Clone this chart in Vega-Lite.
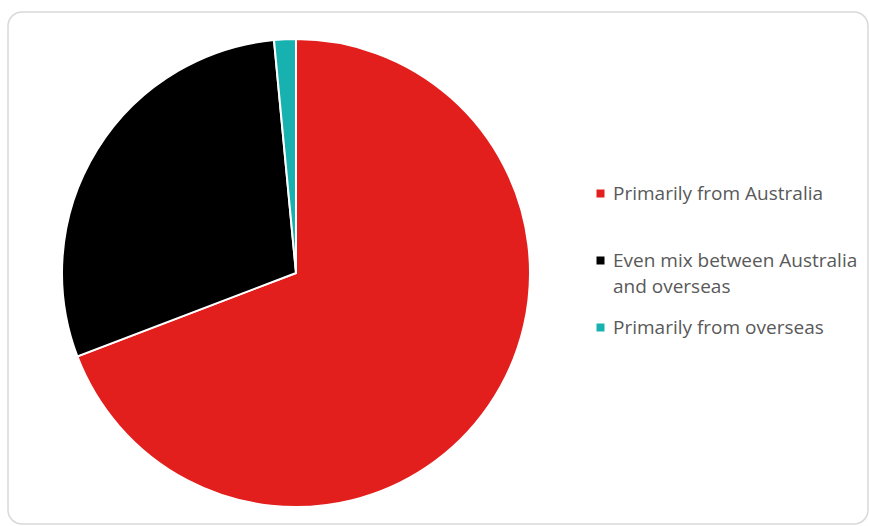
{
  "$schema": "https://vega.github.io/schema/vega-lite/v6.json",
  "width": 860,
  "height": 512,
  "autosize": {"type": "none"},
  "padding": {"left": 8, "top": 12, "right": 1, "bottom": 2},
  "background": "white",
  "view": {"stroke": "#d9d9d9", "strokeWidth": 1.5, "cornerRadius": 14, "fill": "white"},
  "config": {
    "font": "Open Sans",
    "style": {"guide-label": {"lineHeight": 26}}
  },
  "data": {
    "values": [
      {"category": "Primarily from Australia", "share": 69.2, "order": 1},
      {"category": "Even mix between Australia and overseas", "share": 29.3, "order": 2},
      {"category": "Primarily from overseas", "share": 1.5, "order": 3}
    ]
  },
  "mark": {"type": "arc", "radius": 234, "x": 288, "y": 261, "stroke": "white", "strokeWidth": 2},
  "encoding": {
    "theta": {"field": "share", "type": "quantitative", "stack": true},
    "order": {"field": "order", "type": "quantitative"},
    "color": {
      "field": "category",
      "type": "nominal",
      "sort": ["Primarily from Australia", "Even mix between Australia and overseas", "Primarily from overseas"],
      "scale": {
        "domain": ["Primarily from Australia", "Even mix between Australia and overseas", "Primarily from overseas"],
        "range": ["#e21f1d", "#000000", "#17b2b0"]
      },
      "legend": {
        "title": null,
        "orient": "none",
        "legendX": 583,
        "legendY": 172,
        "symbolType": "square",
        "symbolSize": 64,
        "symbolStrokeWidth": 0,
        "labelFont": "Open Sans",
        "labelFontSize": 19,
        "labelColor": "#595959",
        "labelLimit": 400,
        "labelOffset": 3,
        "rowPadding": 21,
        "labelExpr": "datum.label == 'Even mix between Australia and overseas' ? ['Even mix between Australia', 'and overseas'] : datum.label == 'Primarily from Australia' ? ['Primarily from Australia', ''] : datum.label"
      }
    }
  }
}
